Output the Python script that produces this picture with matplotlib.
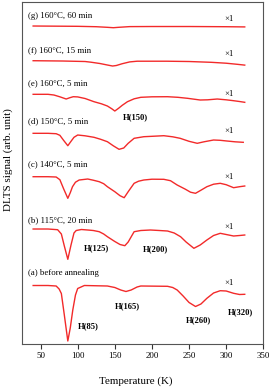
import matplotlib
matplotlib.use("Agg")
import matplotlib.pyplot as plt

plt.rcParams["font.family"] = ["Liberation Serif", "DejaVu Serif"]

# DLTS spectra (temperature in K, signal in arb. units, baseline = 0)
T_a = [40, 60, 71, 75, 78, 82, 86.7, 90, 93.4, 97, 100, 109, 140, 150, 158, 165, 172, 180, 185,
       221, 228, 234, 242, 250, 258.7, 266, 274, 283, 292, 300, 310, 318, 325]
S_a = [0, 0, -0.5, -3.5, -8, -29.5, -55.5, -42.5, -24.5, -9.5, -3, 0, -0.5, -2, -4.5, -6, -4.5, -1.5, -0.5,
       -0.8, -2, -4.5, -10.5, -17, -21, -18.5, -12.8, -7.5, -5.2, -5.5, -7.8, -9, -8.8]

T_b = [40, 60, 73, 78, 82, 86.7, 91, 95, 98, 105, 113.5, 121, 129, 135, 140, 150, 157, 163.5, 168, 176,
       185, 198, 210, 221, 230, 238.6, 246, 256.5, 265, 274, 283, 292, 300, 310, 318, 325]
S_b = [0, 0, -0.7, -5, -17, -30.3, -16, -4, -1.5, -0.5, -1, -1.5, -2.7, -5, -7.7, -12.5, -15.5, -16.7, -13, -2.7,
       -1.5, -1, -1.5, -2, -4, -7.7, -13, -19.3, -16, -11, -6.5, -4.3, -5.5, -7, -6.5, -6]

T_c = [40, 60, 71, 76, 81, 86.7, 90, 93, 97, 102, 113.5, 121, 129, 135, 140, 150, 157, 162.6, 168, 176,
       182, 189, 200, 216, 225, 234, 245, 252, 258.7, 266, 274, 283, 292, 300, 310, 318, 325]
S_c = [0, 0, -0.3, -3, -12, -21.6, -16, -10, -5.5, -3.3, -2.3, -3.5, -5, -7, -10, -15, -19, -21, -15, -6.6,
       -4.5, -3.3, -2.5, -2.6, -4, -8.3, -12.5, -15.5, -16.6, -13.5, -10, -7.5, -6.6, -8, -11, -10, -9.3]

T_d = [40, 60, 71, 76, 81, 86.7, 91, 95, 100, 110, 122, 131, 140, 148, 155.7, 162, 168, 176, 189, 200,
       216, 228, 238, 250, 261, 270, 283, 292, 301, 312, 323]
S_d = [0, 0, -0.4, -2, -7, -12.4, -8, -4, -1.7, -2.5, -4, -6, -8.4, -12.5, -16, -14.7, -10, -5, -3.4, -3,
       -2.4, -3.5, -5, -8, -10, -8.5, -6.7, -7, -7.7, -8.5, -9]

T_e = [40, 60, 68, 76, 84.5, 89, 94, 100, 110, 122, 132, 140, 146, 150, 155, 160, 167, 176, 185, 200,
       221, 235, 248, 258, 265, 275, 288, 300, 310, 318, 325]
S_e = [0, 0, -0.7, -2.5, -4.7, -3.5, -2.4, -2.6, -4.2, -7.4, -9.5, -11.7, -14.5, -16.7, -14, -11, -7.4, -4.5, -3, -2.5,
       -2.4, -3, -4, -5, -5.7, -5.5, -4.7, -5.5, -6.4, -7.2, -8]

T_f = [40, 80, 110, 118, 130, 140, 147, 152, 160, 170, 180, 220, 250, 280, 300, 315, 325]
S_f = [0, -0.3, -0.8, -1.5, -2.8, -4.3, -5.3, -4.8, -3, -1.2, -0.5, -0.5, -0.8, -1.6, -2.5, -3.6, -4.4]

T_g = [40, 100, 125, 140, 148, 155, 170, 200, 250, 300, 325]
S_g = [0, -0.3, -0.7, -1.3, -1.7, -1.3, -0.6, -0.5, -0.5, -0.7, -0.9]

curves = [(T_a, S_a), (T_b, S_b), (T_c, S_c), (T_d, S_d), (T_e, S_e), (T_f, S_f), (T_g, S_g)]
names = ["(a) before annealing", "(b) 115\u00b0C, 20 min", "(c) 140\u00b0C, 5 min",
         "(d) 150\u00b0C, 5 min", "(e) 160\u00b0C, 5 min", "(f) 160\u00b0C, 15 min",
         "(g) 160\u00b0C, 60 min"]
offsets = [58.5, 115, 167.3, 210.7, 249.7, 283.3, 318]
name_y = [70.7, 124, 179.7, 223.3, 261, 294, 328.3]
scale_y = [60.7, 117.3, 167, 213, 249.7, 290, 325]

peaks = ["H(85)", "H(165)", "H(260)", "H(320)", "H(125)", "H(200)", "H(150)"]
peak_pos = [(100, 18.3), (150.5, 38), (245.3, 24), (302.5, 32.3), (108.2, 95.7), (187.3, 95), (160.5, 227.3)]

fig = plt.figure(figsize=(2.71, 3.88), dpi=100)
ax = fig.add_axes([0.0812, 0.1134, 0.8904, 0.8814])

red = "#f22a2a"
for (t, s), off in zip(curves, offsets):
    ax.plot(t, [v + off for v in s], color=red, lw=1.0)

for name, yy in zip(names, name_y):
    ax.text(33, yy, name, fontsize=6.3, va="center", ha="left")
for yy in scale_y:
    ax.text(297.6, yy, "\u00d71", fontsize=6.3, va="center", ha="left")
for p, (px, py) in zip(peaks, peak_pos):
    ax.text(px, py, p, fontsize=6.1, fontweight="bold", va="center", ha="left")

ax.set_xlim(25, 350)
ax.set_ylim(0, 342)
ax.set_xticks([50, 100, 150, 200, 250, 300, 350])
ax.set_yticks([])
ax.tick_params(axis="x", direction="out", length=3.5, width=0.8, labelsize=6.4, pad=2, color="#333333")
for sp in ax.spines.values():
    sp.set_color("#555555")
    sp.set_linewidth(0.8)

fig.text(0.502, 0.018, "Temperature (K)", fontsize=7.9, ha="center", va="center")
fig.text(0.03, 0.588, "DLTS signal (arb. unit)", fontsize=7.9, ha="center", va="center", rotation=90)

fig.savefig("out.png", dpi=100)
